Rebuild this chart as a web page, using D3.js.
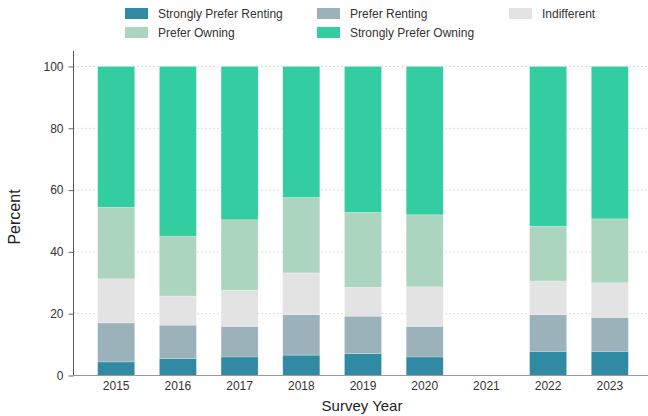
<!DOCTYPE html>
<html>
<head>
<meta charset="utf-8">
<script src="https://cdn.jsdelivr.net/npm/d3@7"></script>
<style>
  body { margin: 0; background: #fff; }
  text { font-family: "Liberation Sans", Arial, sans-serif; }
</style>
</head>
<body>
<div id="chart"></div>
<script>
// Survey years (2021 has no data)
const years = ["2015", "2016", "2017", "2018", "2019", "2020", "2021", "2022", "2023"];

// Categories, bottom to top of each stack
const categories = ["Strongly Prefer Renting", "Prefer Renting", "Indifferent", "Prefer Owning", "Strongly Prefer Owning"];

// Percent per year for each category (null = not surveyed)
const stronglyPreferRenting = [4.4, 5.5, 6.0, 6.6, 7.1, 6.0, null, 7.8, 7.8];
const preferRenting = [12.6, 10.8, 9.9, 13.1, 12.1, 9.9, null, 11.9, 11.0];
const indifferent = [14.3, 9.4, 11.7, 13.5, 9.3, 12.8, null, 10.9, 11.2];
const preferOwning = [23.1, 19.4, 22.8, 24.4, 24.3, 23.3, null, 17.7, 20.7];
const stronglyPreferOwning = [45.6, 54.9, 49.6, 42.4, 47.2, 48.0, null, 51.7, 49.3];

const yTicks = [0, 20, 40, 60, 80, 100];

const colors = ["#318aa3", "#9cb2bb", "#e3e3e3", "#acd5bf", "#34cca1"];

const width = 648;
const height = 416;
const margin = { top: 66, right: 0, bottom: 40, left: 73.5 };

// Build rows for the stack layout
const seriesValues = [stronglyPreferRenting, preferRenting, indifferent, preferOwning, stronglyPreferOwning];
const rows = years
  .map((y, i) => {
    const row = { year: y };
    categories.forEach((c, k) => (row[c] = seriesValues[k][i]));
    return row;
  })
  .filter((r) => r[categories[0]] != null);

const stacked = d3.stack().keys(categories)(rows);

const svg = d3
  .select("#chart")
  .append("svg")
  .attr("width", width)
  .attr("height", height);

const xScale = d3
  .scaleBand()
  .domain(years)
  .range([73, 653])
  .paddingInner(0.4)
  .paddingOuter(0.4);

const yScale = d3
  .scaleLinear()
  .domain([0, 100])
  .range([375.5, 66.5]);

// Dotted gridlines
svg
  .append("g")
  .selectAll("line")
  .data(yTicks)
  .join("line")
  .attr("x1", margin.left)
  .attr("x2", width)
  .attr("y1", (d) => yScale(d))
  .attr("y2", (d) => yScale(d))
  .attr("stroke", "#cfcfcf")
  .attr("stroke-width", 1)
  .attr("stroke-dasharray", "1.5,2.5");

// Stacked bars
svg
  .append("g")
  .selectAll("g")
  .data(stacked)
  .join("g")
  .attr("fill", (d, i) => colors[i])
  .selectAll("rect")
  .data((d) => d)
  .join("rect")
  .attr("x", (d) => xScale(d.data.year))
  .attr("width", xScale.bandwidth())
  .attr("y", (d) => yScale(d[1]))
  .attr("height", (d) => yScale(d[0]) - yScale(d[1]))
  .attr("stroke", "#ffffff")
  .attr("stroke-opacity", 0.35)
  .attr("stroke-width", 0.6);

// Y axis
const yAxis = svg
  .append("g")
  .attr("transform", `translate(${margin.left},0)`)
  .call(d3.axisLeft(yScale).tickValues(yTicks).tickSize(5).tickPadding(5));
yAxis.select(".domain").attr("stroke", "#555").attr("d", `M0,51V${yScale(0)}`);
yAxis.selectAll(".tick line").attr("stroke", "#666");
yAxis.selectAll("text").attr("fill", "#333").style("font-size", "12px");

// X axis
const xAxis = svg
  .append("g")
  .attr("transform", `translate(0,${yScale(0)})`)
  .call(d3.axisBottom(xScale).tickSize(0).tickPadding(6));
xAxis.select(".domain").attr("stroke", "#999").attr("d", `M${margin.left},0H${width}`);
xAxis.selectAll("text").attr("fill", "#333").style("font-size", "12px");

// Axis titles
svg
  .append("text")
  .attr("x", 362)
  .attr("y", 411)
  .attr("text-anchor", "middle")
  .attr("fill", "#222")
  .style("font-size", "15px")
  .text("Survey Year");

svg
  .append("text")
  .attr("transform", `translate(20,217) rotate(-90)`)
  .attr("text-anchor", "middle")
  .attr("fill", "#222")
  .style("font-size", "16px")
  .text("Percent");

// Legend
const legendX = [125, 317, 509];
const legend = svg
  .append("g")
  .selectAll("g")
  .data(categories)
  .join("g")
  .attr("transform", (d, i) => `translate(${legendX[i % 3]},${i < 3 ? 8 : 27})`);

legend
  .append("rect")
  .attr("width", 23)
  .attr("height", 11)
  .attr("fill", (d, i) => colors[i]);

legend
  .append("text")
  .attr("x", 33)
  .attr("y", 10)
  .attr("fill", "#333")
  .style("font-size", "12px")
  .text((d) => d);
</script>
</body>
</html>
